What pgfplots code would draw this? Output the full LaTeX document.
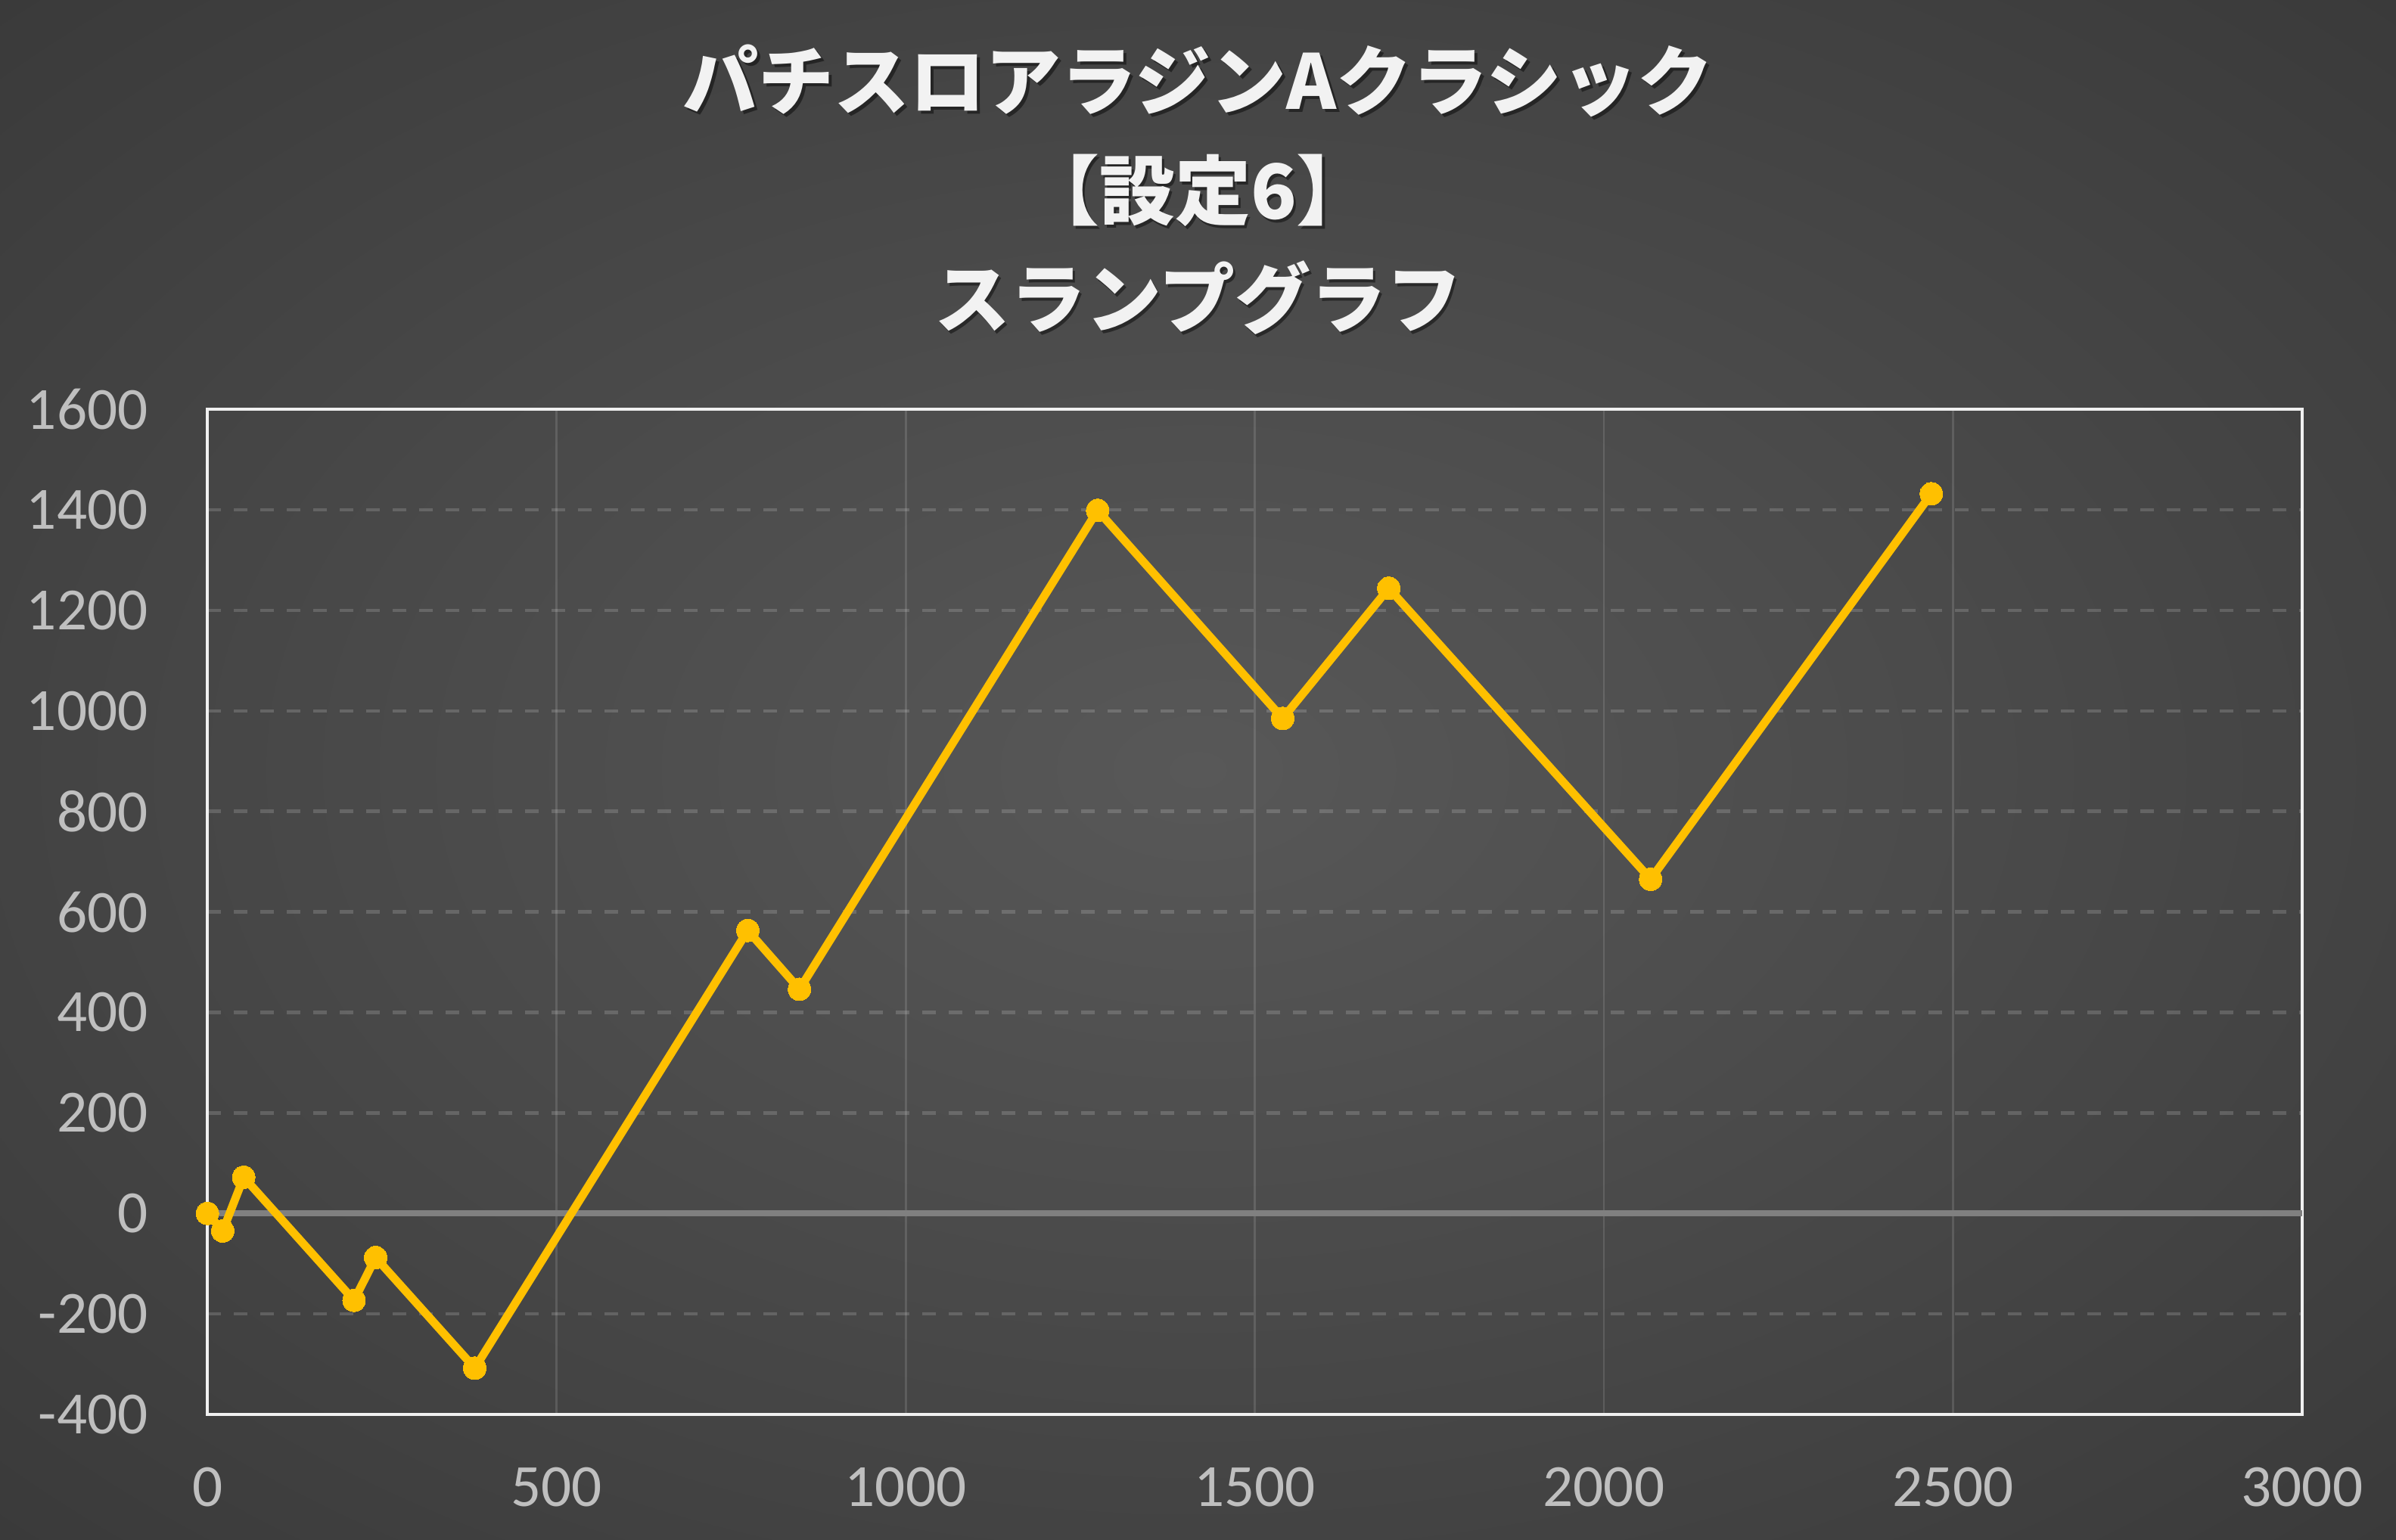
\documentclass[border=0pt]{standalone}
\usepackage{pgfplots}
\pgfplotsset{compat=1.18}
\usepackage{fontspec}
\setmainfont{Carlito}
\newfontfamily\cjk{Noto Sans CJK JP}
\definecolor{gold}{HTML}{FFC000}
\definecolor{tickc}{HTML}{BFBFBF}
\definecolor{ttl}{HTML}{F2F2F2}
\definecolor{zeroline}{HTML}{808080}
\definecolor{cA}{HTML}{585858}
\definecolor{cB}{HTML}{2E2E2E}
\definecolor{cC}{HTML}{252525}
\pgfdeclareradialshading{bgshade}{\pgfpoint{0bp}{0bp}}{color(0bp)=(cA); color(35bp)=(cB); color(50bp)=(cC)}
\begin{document}
\begin{tikzpicture}
\path[use as bounding box] (-65.8pt,-39.8pt) rectangle (694.3pt,448.8pt);
\begin{scope}
\clip (-65.8pt,-39.8pt) rectangle (694.3pt,448.8pt);
\shade[shading=bgshade] (-223.2pt,-141pt) rectangle (851.7pt,550pt);
\end{scope}
\foreach \yy/\tt in {414pt/{パチスロアラジンAクラシック},379.2pt/{【設定6】},344.9pt/{スランプグラフ}}{
  \node[anchor=base, font=\cjk\bfseries\fontsize{24}{28}\selectfont, text=black, opacity=0.45] at (315.1pt,\yy-0.9pt) {\tt};
  \node[anchor=base, font=\cjk\bfseries\fontsize{24}{28}\selectfont, text=ttl] at (314.25pt,\yy) {\tt};
}
\begin{axis}[
  at={(0,0)}, anchor=south west,
  scale only axis, width=664.5pt, height=318.9pt,
  xmin=0, xmax=3000, ymin=-400, ymax=1600,
  xtick={0,500,...,3000}, ytick={-400,-200,...,1600},
  major tick length=0pt,
  axis line style={draw={rgb,255:red,240;green,240;blue,240}, line width=0.9pt},
  xmajorgrids, ymajorgrids,
  every axis x grid/.style={draw=white, draw opacity=0.13, line width=0.7pt},
  every axis y grid/.style={draw=white, draw opacity=0.16, line width=1.1pt, dash pattern=on 4.4pt off 4pt},
  tick label style={font=\fontsize{19}{21}\selectfont, text=tickc},
  /pgf/number format/assume math mode=true,
  /pgf/number format/1000 sep={},
  yticklabel style={inner sep=0pt, anchor=east, xshift=-18.7pt},
  xticklabel style={inner sep=0pt, anchor=north, yshift=-16.6pt},
  clip=false,
]
\draw[zeroline, line width=2pt] (axis cs:0,0) -- (axis cs:3000,0);
\addplot[gold, line width=2.6pt, line join=round, mark=*, mark size=3.6pt,
  mark options={fill=gold, draw=gold, line width=0pt}] coordinates {
(0,0) (22,-35) (52,72) (210,-173) (241,-88) (383,-308) (774,563) (848,446)
(1275,1399) (1540,985) (1692,1244) (2067,665) (2469,1432)
};
\end{axis}
\end{tikzpicture}
\end{document}
